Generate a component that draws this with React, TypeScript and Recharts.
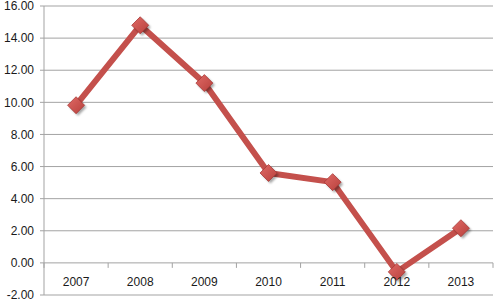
import React from 'react';
import { LineChart, Line, XAxis, YAxis, CartesianGrid } from 'recharts';

// values
const years = ['2007', '2008', '2009', '2010', '2011', '2012', '2013'];
const values = [9.82, 14.8, 11.2, 5.6, 5.03, -0.56, 2.16];
const yTicks = [-2, 0, 2, 4, 6, 8, 10, 12, 14, 16];

const data = years.map((year, i) => ({ year, value: values[i] }));

const W = 501;
const H = 300;
const TOP = 6;
const BOTTOM = 5;
const LEFT = 44;
const RIGHT = 8;
const X_AXIS_H = 20;
const PLOT_W = W - LEFT - RIGHT;
const PLOT_H = H - TOP - BOTTOM;
// pixel row of the zero line, where the category axis sits
const ZERO_Y = TOP + (16 / 18) * PLOT_H;
const GRID = '#a3a3a3';

function YearTick(props: any) {
  const { x, payload, index } = props;
  const band = PLOT_W / years.length;
  return (
    <g>
      <line x1={x - band / 2} x2={x - band / 2} y1={ZERO_Y} y2={ZERO_Y + 5} stroke={GRID} />
      {index === years.length - 1 && (
        <line x1={x + band / 2} x2={x + band / 2} y1={ZERO_Y} y2={ZERO_Y + 5} stroke={GRID} />
      )}
      <text x={x} y={ZERO_Y + 23} textAnchor="middle" fontSize={12} fill="#1a1a1a">
        {payload.value}
      </text>
    </g>
  );
}

function Diamond(props: any) {
  const { cx, cy } = props;
  if (cx == null || cy == null) return null;
  const r = 8.5;
  const pts = (dx: number, dy: number) =>
    `${cx + dx},${cy + dy - r} ${cx + dx + r},${cy + dy} ${cx + dx},${cy + dy + r} ${cx + dx - r},${cy + dy}`;
  return (
    <g>
      <polygon points={pts(2, 2)} fill="rgba(0,0,0,0.35)" filter="url(#dshadow)" />
      <polygon points={pts(0, 0)} fill="url(#dfill)" stroke="#a83a37" strokeWidth={0.8} />
    </g>
  );
}

export default function App() {
  return (
    <div style={{ position: 'absolute', left: 0, top: 0, width: W, height: H, fontFamily: '"Liberation Sans", Arial, sans-serif' }}>
      <LineChart
        width={W}
        height={H}
        data={data}
        margin={{ top: TOP, right: RIGHT, bottom: BOTTOM - X_AXIS_H, left: 0 }}
      >
        <defs>
          <filter id="dshadow" x="-50%" y="-50%" width="200%" height="200%">
            <feGaussianBlur stdDeviation="1.2" />
          </filter>
          <linearGradient id="dfill" x1="0" y1="0" x2="1" y2="1">
            <stop offset="0%" stopColor="#e06a66" />
            <stop offset="100%" stopColor="#b8403c" />
          </linearGradient>
        </defs>
        <CartesianGrid vertical={false} stroke={GRID} />
        <XAxis
          dataKey="year"
          scale="band"
          height={X_AXIS_H}
          axisLine={false}
          tickLine={false}
          tick={<YearTick />}
          interval={0}
        />
        <YAxis
          width={LEFT}
          domain={[-2, 16]}
          ticks={yTicks}
          interval={0}
          tickFormatter={(v: number) => v.toFixed(2)}
          stroke={GRID}
          tickSize={4}
          tickMargin={6}
          tick={{ fontSize: 12, fill: '#1a1a1a' }}
        />
        <Line
          type="linear"
          dataKey="value"
          stroke="#c4504c"
          strokeWidth={6}
          strokeLinejoin="round"
          dot={<Diamond />}
          activeDot={false}
          isAnimationActive={false}
        />
      </LineChart>
    </div>
  );
}
